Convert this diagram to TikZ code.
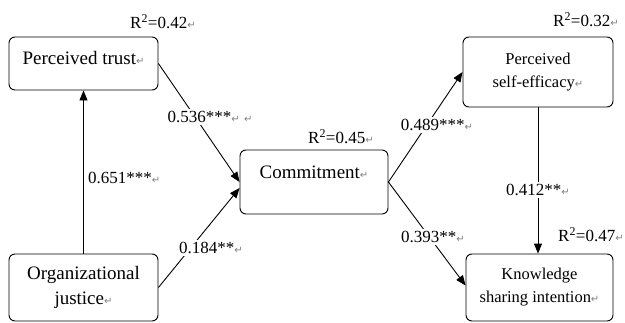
\documentclass[tikz,border=0pt]{standalone}
\usepackage{fontspec}
\setmainfont{Liberation Serif}
\newfontfamily\djvfont{DejaVu Sans}
\usetikzlibrary{arrows.meta}
\newcommand{\parmk}{{\djvfont\fontsize{10}{10}\selectfont\textcolor{gray}{↵}}}
\begin{document}
\begin{tikzpicture}[x=1pt,y=-1pt,
  box/.style={draw, rounded corners=6pt, line width=0.9pt, inner sep=0pt, align=center},
  bigtxt/.style={font=\fontsize{19}{25}\selectfont},
  smtxt/.style={font=\fontsize{16.5}{23}\selectfont},
  lbl/.style={font=\fontsize{17}{20}\selectfont, fill=white, inner sep=2pt},
  rsq/.style={font=\fontsize{17}{20}\selectfont, anchor=west, inner sep=0pt},
  arr/.style={line width=0.9pt, -{Triangle[length=10pt,width=8pt]}}]
\useasboundingbox (0,0) rectangle (625,322);

\node[box,bigtxt,minimum width=149pt,minimum height=53pt,text height=14pt,text depth=12pt] (trust) at (83.5,63.5) {Perceived trust\parmk};
\node[box,bigtxt,minimum width=149pt,minimum height=67pt] (org) at (83.5,287.5) {Organizational\\justice\parmk};
\node[box,bigtxt,minimum width=148pt,minimum height=64pt,text height=14pt,text depth=21pt] (comm) at (314,182) {Commitment\parmk};
\node[box,smtxt,minimum width=150pt,minimum height=70pt] (self) at (538,72) {Perceived\\self-efficacy\parmk};
\node[box,smtxt,minimum width=147pt,minimum height=67pt] (know) at (539.5,287.5) {Knowledge\\sharing intention\parmk};

\draw[arr] (org.north) -- (trust.south);
\node[rsq] (l1) at (88,178) {0.651***\parmk};

\draw[arr] (trust.east) -- (comm.west);
\node[lbl] (l2) at (210,117) {0.536***\parmk\ \parmk};

\draw[arr] (org.east) -- ([yshift=-6pt]comm.west);
\node[lbl] (l3) at (211,248) {0.184**\parmk};

\draw[arr] (comm.east) -- (self.west);
\node[lbl] (l4) at (437,125) {0.489***\parmk};

\draw[arr] (comm.east) -- ([yshift=2pt]know.west);
\node[lbl] (l5) at (433,237) {0.393**\parmk};

\draw[arr] (self.south) -- (self.south |- know.north);
\node[lbl] (l6) at (538,190) {0.412**\parmk};

\node[rsq] (r1) at (130,22) {R\textsuperscript{2}=0.42\parmk};
\node[rsq] (r2) at (308,137) {R\textsuperscript{2}=0.45\parmk};
\node[rsq] (r3) at (553,20) {R\textsuperscript{2}=0.32\parmk};
\node[rsq] (r4) at (558,235) {R\textsuperscript{2}=0.47\parmk};
\end{tikzpicture}
\end{document}
